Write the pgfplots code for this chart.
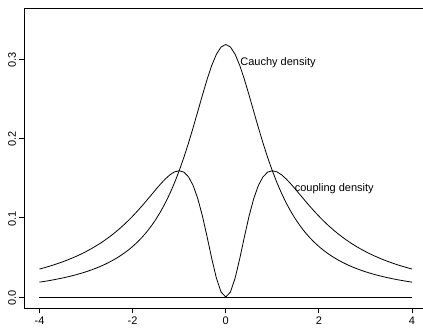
\documentclass[border=0pt]{standalone}
\usepackage{pgfplots}
\usepackage{pgfplotstable}
\pgfplotsset{compat=1.18}
\usepackage{fontspec}
\setmainfont{Liberation Sans}
\pgfplotstableread{
x f g
-4.0 0.018724 0.035245
-3.9 0.019637 0.036849
-3.8 0.020616 0.038561
-3.7 0.021669 0.040388
-3.6 0.022801 0.042336
-3.5 0.024023 0.044420
-3.4 0.025343 0.046651
-3.3 0.026771 0.049039
-3.2 0.028319 0.051599
-3.1 0.030001 0.054347
-3.0 0.031831 0.057296
-2.9 0.033827 0.060464
-2.8 0.036008 0.063869
-2.7 0.038397 0.067531
-2.6 0.041019 0.071466
-2.5 0.043905 0.075698
-2.4 0.047087 0.080243
-2.3 0.050606 0.085121
-2.2 0.054505 0.090344
-2.1 0.058837 0.095923
-2.0 0.063662 0.101859
-1.9 0.069048 0.108140
-1.8 0.075073 0.114734
-1.7 0.081828 0.121585
-1.6 0.089413 0.128594
-1.5 0.097942 0.135612
-1.4 0.107537 0.142415
-1.3 0.118331 0.148683
-1.2 0.130455 0.153980
-1.1 0.144032 0.157718
-1.0 0.159155 0.159155
-0.9 0.175862 0.157401
-0.8 0.194091 0.151485
-0.7 0.213631 0.140509
-0.6 0.234051 0.123909
-0.5 0.254648 0.101859
-0.4 0.274405 0.075698
-0.3 0.292027 0.048225
-0.2 0.306067 0.023544
-0.1 0.315158 0.006241
0.0 0.318310 0.000000
0.1 0.315158 0.006241
0.2 0.306067 0.023544
0.3 0.292027 0.048225
0.4 0.274405 0.075698
0.5 0.254648 0.101859
0.6 0.234051 0.123909
0.7 0.213631 0.140509
0.8 0.194091 0.151485
0.9 0.175862 0.157401
1.0 0.159155 0.159155
1.1 0.144032 0.157718
1.2 0.130455 0.153980
1.3 0.118331 0.148683
1.4 0.107537 0.142415
1.5 0.097942 0.135612
1.6 0.089413 0.128594
1.7 0.081828 0.121585
1.8 0.075073 0.114734
1.9 0.069048 0.108140
2.0 0.063662 0.101859
2.1 0.058837 0.095923
2.2 0.054505 0.090344
2.3 0.050606 0.085121
2.4 0.047087 0.080243
2.5 0.043905 0.075698
2.6 0.041019 0.071466
2.7 0.038397 0.067531
2.8 0.036008 0.063869
2.9 0.033827 0.060464
3.0 0.031831 0.057296
3.1 0.030001 0.054347
3.2 0.028319 0.051599
3.3 0.026771 0.049039
3.4 0.025343 0.046651
3.5 0.024023 0.044420
3.6 0.022801 0.042336
3.7 0.021669 0.040388
3.8 0.020616 0.038561
3.9 0.019637 0.036849
4.0 0.018724 0.035245
}\dens
\begin{document}
\begin{tikzpicture}
\begin{axis}[
  at={(0pt,0pt)}, anchor=south west,
  scale only axis, width=398.5pt, height=300.3pt,
  xmin=-4.322, xmax=4.236, ymin=-0.01424, ymax=0.3643,
  axis line style={draw=none},
  tick align=outside, major tick length=5pt,
  xtick pos=lower, ytick pos=left,
  tick style={line width=0.8pt, black},
  xtick={-4,-2,0,2,4}, xticklabels={-4,-2,0,2,4},
  ytick={0,0.1,0.2,0.3}, yticklabels={0.0,0.1,0.2,0.3},
  every tick label/.append style={font=\fontsize{11}{13}\selectfont},
  yticklabel style={rotate=90, anchor=south, xshift=-1pt},
  /pgf/number format/assume math mode=true,
  clip=false,
]
\draw[line width=0.8pt] (rel axis cs:1,1) -- (rel axis cs:0,1) -- (rel axis cs:0,0) -- (rel axis cs:1,0);
\addplot[black, line width=0.8pt] table[x=x, y=f] {\dens};
\addplot[black, line width=0.8pt] table[x=x, y=g] {\dens};
\addplot[black, line width=0.8pt] coordinates {(-4,0) (4,0)};
\node[anchor=west, inner sep=0pt, font=\fontsize{11}{13}\selectfont] at (axis cs:0.31,0.296) {Cauchy density};
\node[anchor=west, inner sep=0pt, font=\fontsize{11}{13}\selectfont] at (axis cs:1.478,0.137) {coupling density};
\end{axis}
\pgfresetboundingbox
\path[use as bounding box] (-24.5pt,-20.7pt) rectangle (398.5pt,308.3pt);
\end{tikzpicture}
\end{document}
